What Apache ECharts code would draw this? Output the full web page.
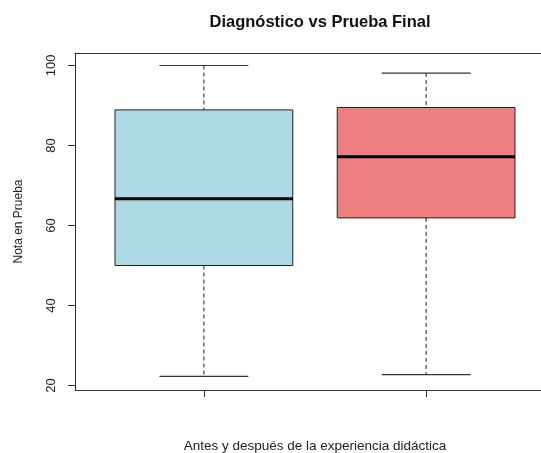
<!DOCTYPE html>
<html>
<head>
<meta charset="utf-8">
<script src="https://cdn.jsdelivr.net/npm/echarts@6/dist/echarts.min.js"></script>
<style>
  html, body { margin: 0; padding: 0; background: #fff; }
  #chart { width: 541px; height: 453px; }
</style>
</head>
<body>
<div id="chart"></div>
<script>
const groups = ["Antes", "Después"];
const lowerWhisker = [22.3, 22.7];
const q1 = [50.0, 61.9];
const medians = [66.7, 77.2];
const q3 = [88.9, 89.5];
const upperWhisker = [100, 98.1];
const boxColors = ["#ADD8E6", "#F08080"];
const yTicks = [20, 40, 60, 80, 100];

const chart = echarts.init(document.getElementById("chart"));

const boxData = groups.map((g, i) => [
  i + 1, lowerWhisker[i], q1[i], medians[i], q3[i], upperWhisker[i]
]);

function renderBox(params, api) {
  const x = api.value(0);
  const pMin = api.coord([x, api.value(1)]);
  const pQ1 = api.coord([x, api.value(2)]);
  const pMed = api.coord([x, api.value(3)]);
  const pQ3 = api.coord([x, api.value(4)]);
  const pMax = api.coord([x, api.value(5)]);
  const w = api.size([0.8, 0])[0]; // boxwex 0.8
  const cap = w / 2;
  const dash = { stroke: "#222", lineWidth: 1, lineDash: [4, 3] };
  const solid = { stroke: "#333", lineWidth: 1.2 };
  return {
    type: "group",
    children: [
      { type: "line", shape: { x1: pMax[0], y1: pMax[1], x2: pQ3[0], y2: pQ3[1] }, style: dash },
      { type: "line", shape: { x1: pQ1[0], y1: pQ1[1], x2: pMin[0], y2: pMin[1] }, style: dash },
      { type: "line", shape: { x1: pMax[0] - cap / 2, y1: pMax[1], x2: pMax[0] + cap / 2, y2: pMax[1] }, style: solid },
      { type: "line", shape: { x1: pMin[0] - cap / 2, y1: pMin[1], x2: pMin[0] + cap / 2, y2: pMin[1] }, style: solid },
      {
        type: "rect",
        shape: { x: pQ3[0] - w / 2, y: pQ3[1], width: w, height: pQ1[1] - pQ3[1] },
        style: { fill: boxColors[params.dataIndex], stroke: "#222", lineWidth: 1 }
      },
      { type: "line", shape: { x1: pMed[0] - w / 2, y1: pMed[1], x2: pMed[0] + w / 2, y2: pMed[1] }, style: { stroke: "#000", lineWidth: 3 } }
    ]
  };
}

const frameLine = { show: true, lineStyle: { color: "#333", width: 1 } };

const option = {
  backgroundColor: "#fff",
  animation: false,
  title: {
    text: "Diagnóstico vs Prueba Final",
    left: 315,
    top: 9,
    textAlign: "center",
    textStyle: { fontFamily: "Liberation Sans", fontSize: 16.5, fontWeight: "bold", color: "#111" }
  },
  grid: {
    left: 75,
    top: 53,
    width: 480,
    height: 337,
    outerBoundsMode: "none",
    containLabel: false
  },
  xAxis: [
    {
      type: "value",
      min: 0.42,
      max: 2.58,
      name: "Antes y después de la experiencia didáctica",
      nameLocation: "middle",
      nameGap: 49,
      nameTextStyle: { fontFamily: "Liberation Sans", fontSize: 13.5, color: "#222" },
      axisLine: frameLine,
      splitLine: { show: false },
      axisTick: { show: true, length: 7, lineStyle: { color: "#333" }, customValues: [1, 2] },
      axisLabel: { show: false }
    },
    {
      // borde superior del marco
      type: "value",
      position: "top",
      min: 0.42,
      max: 2.58,
      axisLine: frameLine,
      splitLine: { show: false },
      axisTick: { show: false },
      axisLabel: { show: false }
    }
  ],
  yAxis: {
    type: "value",
    min: 18.88,
    max: 103.12,
    name: "Nota en Prueba",
    nameLocation: "middle",
    nameGap: 50,
    nameTextStyle: { fontFamily: "Liberation Sans", fontSize: 12, color: "#222" },
    axisLine: frameLine,
    splitLine: { show: false },
    axisTick: { show: true, length: 7, lineStyle: { color: "#333" }, customValues: yTicks },
    axisLabel: {
      rotate: 90,
      margin: 17,
      fontFamily: "Liberation Sans",
      fontSize: 13,
      color: "#222",
      customValues: yTicks
    }
  },
  series: [
    {
      type: "custom",
      renderItem: renderBox,
      encode: { x: 0, y: [1, 2, 3, 4, 5] },
      data: boxData
    }
  ]
};

chart.setOption(option);
</script>
</body>
</html>
